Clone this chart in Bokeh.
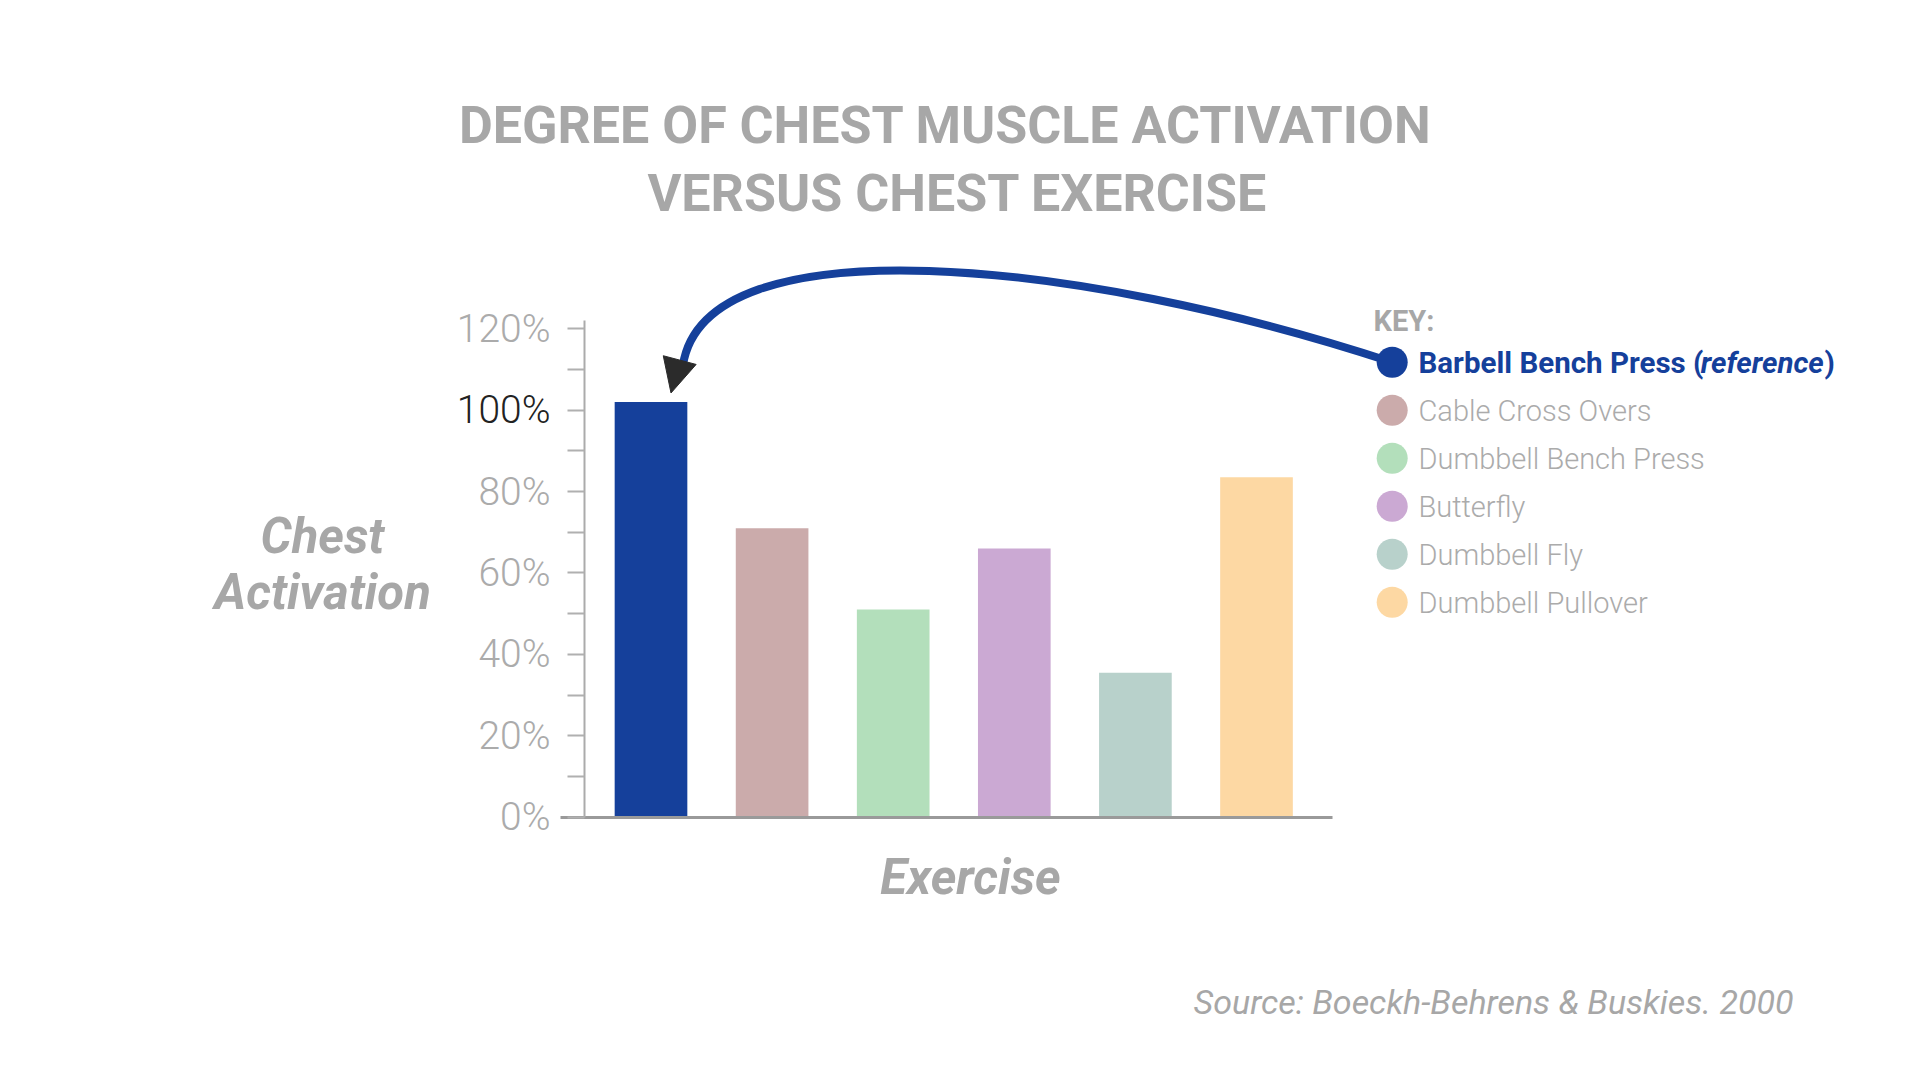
from bokeh.plotting import figure
from bokeh.models import (Range1d, FixedTicker, PrintfTickFormatter, Label, Arrow,
                          NormalHead, ColumnDataSource)
from bokeh.embed import file_html
from bokeh.resources import INLINE
from bokeh.core.properties import value

# ---------------- data ----------------
exercises = ["Barbell Bench Press", "Cable Cross Overs", "Dumbbell Bench Press",
             "Butterfly", "Dumbbell Fly", "Dumbbell Pullover"]
activation = [102, 71, 51, 66, 35.5, 83.5]
colors = ["#15409b", "#cbabab", "#b3dfbb", "#cba9d3", "#b8d1cb", "#fdd8a3"]
y_ticks = [0, 20, 40, 60, 80, 100, 120]
y_minor_ticks = [10, 30, 50, 70, 90, 110]
title_lines = ["DEGREE OF CHEST MUSCLE ACTIVATION", "VERSUS CHEST EXERCISE"]
y_label_lines = ["Chest", "Activation"]
x_label = "Exercise"
key_title = "KEY:"
ref_suffix = "reference"
source_text = "Source: Boeckh-Behrens & Buskies. 2000"

# ---------------- layout (page pixels) ----------------
W, H = 1904, 1064
AXIS_X, BASE_Y = 584, 816.7          # y axis x-position, baseline y-position
SLOT = 121.1                          # px per category
PX_PER_PCT = 4.071                    # px per 1 %
FIRST_CENTER = 650.5
x0 = (0 - FIRST_CENTER) / SLOT
x1 = (W - FIRST_CENTER) / SLOT
y0 = -(H - BASE_Y) / PX_PER_PCT
y1 = BASE_Y / PX_PER_PCT

GRAY = "#a7a7a7"
LIGHT = "#ababab"
BLUE = colors[0]
TICK_FS = "39px"

p = figure(width=W, height=H, x_range=Range1d(x0, x1), y_range=Range1d(y0, y1),
           output_backend="svg", toolbar_location=None, min_border=0)
p.extra_x_ranges = {"px": Range1d(0, W)}
p.extra_y_ranges = {"px": Range1d(H, 0)}
p.outline_line_color = None
p.xgrid.visible = False
p.ygrid.visible = False
p.background_fill_color = "white"
p.border_fill_color = "white"

# y axis
ya = p.yaxis[0]
ya.fixed_location = (AXIS_X - FIRST_CENTER) / SLOT
ya.ticker = FixedTicker(ticks=y_ticks, minor_ticks=y_minor_ticks)
ya.formatter = PrintfTickFormatter(format="%d%%")
ya.major_label_overrides = {100: ""}
ya.bounds = (0, 122)
ya.axis_line_color = "#ababab"
ya.axis_line_width = 2
ya.major_tick_line_color = "#b0b0b0"
ya.major_tick_line_width = 2
ya.minor_tick_line_color = "#b0b0b0"
ya.minor_tick_line_width = 2
ya.major_tick_out = 17
ya.major_tick_in = 0
ya.minor_tick_out = 17
ya.minor_tick_in = 0
ya.major_label_standoff = 17
ya.major_label_text_font = "Roboto Light"
ya.major_label_text_font_size = TICK_FS
ya.major_label_text_color = LIGHT

# x axis (baseline only)
xa = p.xaxis[0]
xa.fixed_location = 0
xa.ticker = FixedTicker(ticks=[])
xa.major_label_text_font_size = "0px"
xa.major_tick_line_color = None
xa.minor_tick_line_color = None
xa.axis_line_color = "#9a9a9a"
xa.axis_line_width = 3
xa.bounds = ((560 - FIRST_CENTER) / SLOT, (1332 - FIRST_CENTER) / SLOT)

# bars
src = ColumnDataSource(dict(x=list(range(len(exercises))), top=activation,
                            color=colors, name=exercises))
p.vbar(x="x", top="top", width=0.6, bottom=0, fill_color="color",
       line_color=None, source=src)

# 100% tick label in dark
p.add_layout(Label(x=AXIS_X - 17 - 17, y=100, x_range_name="px", text="100%",
                   text_font="Roboto Light", text_font_size=TICK_FS,
                   text_color="#222222", text_align="right", text_baseline="middle"))

# ---------------- legend ----------------
KEY_X = 1373
DOT_X = 1391.7
ROW0 = 361.7
ROW_GAP = 48
TEXT_X = 1418
FS = 29
FS_REF = 29.5
rows_y = [ROW0 + i * ROW_GAP for i in range(len(exercises))]

# curved arrow from legend reference dot to first bar
bar_cx = FIRST_CENTER
bar_top = BASE_Y - activation[0] * PX_PER_PCT
tip_x, tip_y = bar_cx + 20, bar_top - 9
base_x, base_y = tip_x + 8, tip_y - 28
p.bezier(x0=[DOT_X], y0=[rows_y[0]], x1=[base_x + 4], y1=[base_y],
         cx0=[1080], cy0=[259], cx1=[705], cy1=[220],
         line_color=BLUE, line_width=8, line_cap="round",
         x_range_name="px", y_range_name="px")
p.add_layout(Arrow(end=NormalHead(size=34, fill_color="#2b2b2b", line_color="#2b2b2b",
                                  line_width=1),
                   x_start=base_x + 1, y_start=base_y - 6, x_end=tip_x, y_end=tip_y,
                   line_alpha=0, x_range_name="px", y_range_name="px"))

# dots
p.scatter(x=[DOT_X] * len(exercises), y=rows_y, size=31, marker="circle",
          fill_color=colors, line_color=None, x_range_name="px", y_range_name="px")

p.add_layout(Label(x=KEY_X, y=320.5, text=key_title, x_range_name="px", y_range_name="px",
                   text_font="Roboto", text_font_style="bold", text_font_size="29px",
                   text_color=GRAY, text_baseline="middle"))

# gray legend texts
p.text(x=[TEXT_X] * (len(exercises) - 1), y=[r + 1 for r in rows_y[1:]],
       text=exercises[1:], text_font=value("Roboto Light"), text_font_size=f"{FS}px",
       text_color=LIGHT, text_baseline="middle", text_align="left",
       x_range_name="px", y_range_name="px")

# blue reference item (bold, with italic word)
seg1 = exercises[0] + " ("
W1 = 9.5 * FS_REF      # advance of "Barbell Bench Press ("
W2 = 4.23 * FS_REF     # advance of "reference"
p.add_layout(Label(x=TEXT_X, y=rows_y[0] + 1, text=seg1, x_range_name="px",
                   y_range_name="px", text_font="Roboto", text_font_style="bold",
                   text_font_size=f"{FS_REF}px", text_color=BLUE, text_baseline="middle"))
p.add_layout(Label(x=TEXT_X + W1 + 2, y=rows_y[0] + 1, text=ref_suffix, x_range_name="px",
                   y_range_name="px", text_font="Roboto", text_font_style="bold italic",
                   text_font_size=f"{FS_REF}px", text_color=BLUE, text_baseline="middle"))
p.add_layout(Label(x=TEXT_X + W1 + W2 + 1, y=rows_y[0] + 1, text=")", x_range_name="px",
                   y_range_name="px", text_font="Roboto", text_font_style="bold",
                   text_font_size=f"{FS_REF}px", text_color=BLUE, text_baseline="middle"))

# ---------------- titles & axis labels ----------------
for line, cx, cy in zip(title_lines, [945, 957], [125, 193]):
    p.add_layout(Label(x=cx, y=cy, text=line, x_range_name="px", y_range_name="px",
                       text_font="Roboto", text_font_style="bold", text_font_size="52px",
                       text_color=GRAY, text_align="center", text_baseline="middle"))

for line, cy in zip(y_label_lines, [535.5, 592]):
    p.add_layout(Label(x=322, y=cy, text=line, x_range_name="px", y_range_name="px",
                       text_font="Roboto", text_font_style="bold italic",
                       text_font_size="49px", text_color=GRAY, text_align="center",
                       text_baseline="middle"))

p.add_layout(Label(x=970, y=877, text=x_label, x_range_name="px", y_range_name="px",
                   text_font="Roboto", text_font_style="bold italic", text_font_size="49px",
                   text_color=GRAY, text_align="center", text_baseline="middle"))

p.add_layout(Label(x=1793, y=1001.5, text=source_text, x_range_name="px", y_range_name="px",
                   text_font="Roboto", text_font_style="italic", text_font_size="34px",
                   text_color=GRAY, text_align="right", text_baseline="middle"))

open("out.html", "w").write(file_html(p, INLINE))
